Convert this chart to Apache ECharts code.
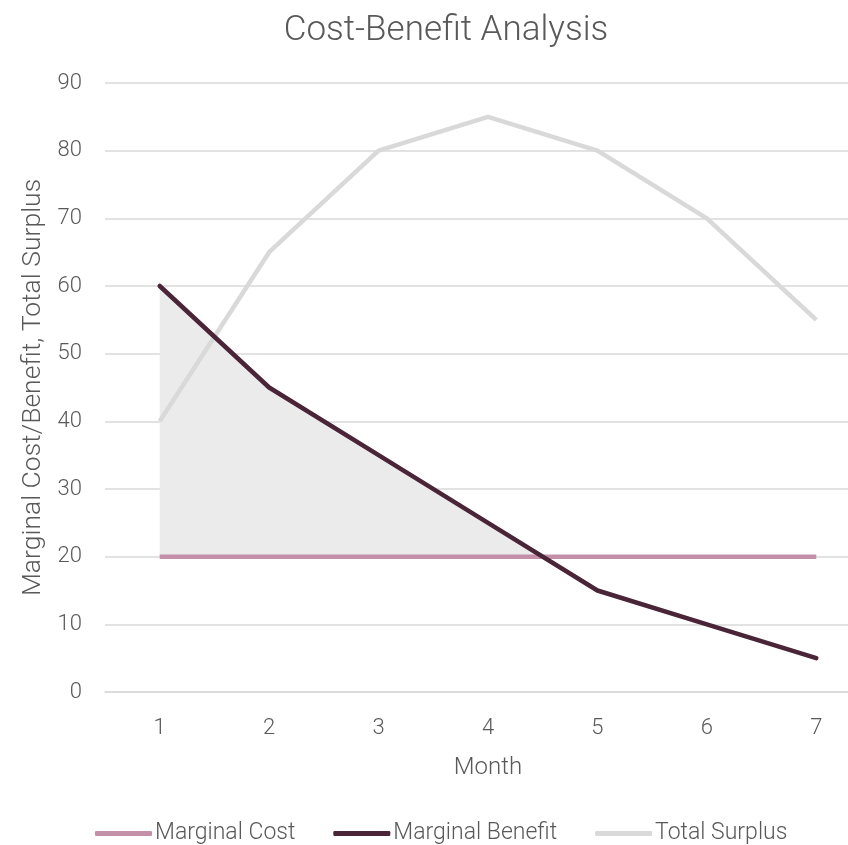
<!DOCTYPE html>
<html>
<head>
<meta charset="utf-8">
<script src="https://cdn.jsdelivr.net/npm/echarts@6/dist/echarts.min.js"></script>
<style>
  html, body { margin: 0; padding: 0; background: #fff; overflow: hidden; }
  /* plot area runs past the right edge of the page */
  #chart { width: 871px; height: 845px; }
</style>
</head>
<body>
<div id="chart"></div>
<script>
// Monthly cost-benefit figures
const months = ['1', '2', '3', '4', '5', '6', '7'];
const marginalCost = [20, 20, 20, 20, 20, 20, 20];
const marginalBenefit = [60, 45, 35, 25, 15, 10, 5];
const totalSurplus = [40, 65, 80, 85, 80, 70, 55];

const FONT = 'Roboto, "Liberation Sans", Arial, sans-serif';
const TEXT = '#595959';

// Surplus region: between the benefit curve and the cost line, up to where they cross
function surplusPolygon() {
  const upper = [];
  for (let i = 0; i < months.length; i++) {
    const d = marginalBenefit[i] - marginalCost[i];
    if (d >= 0) {
      upper.push([i, marginalBenefit[i]]);
    }
    if (i + 1 < months.length) {
      const d2 = marginalBenefit[i + 1] - marginalCost[i + 1];
      if (d > 0 && d2 < 0) {
        const t = d / (d - d2);
        upper.push([i + t, marginalCost[i] + t * (marginalCost[i + 1] - marginalCost[i])]);
        break;
      }
    }
  }
  const lower = upper.map(p => [p[0], marginalCost[Math.min(Math.round(p[0]), months.length - 1)]]).reverse();
  return upper.concat(lower);
}

const chart = echarts.init(document.getElementById('chart'));
chart.setOption({
  backgroundColor: '#ffffff',
  animation: false,
  title: {
    text: 'Cost-Benefit Analysis',
    left: 441,
    textAlign: 'center',
    top: 9,
    textStyle: { fontFamily: FONT, fontSize: 35, fontWeight: 300, color: TEXT }
  },
  legend: {
    bottom: -5,
    left: 90,
    itemWidth: 57,
    itemHeight: 5,
    itemGap: 38,
    icon: 'roundRect',
    textStyle: { fontFamily: FONT, fontSize: 23, fontWeight: 300, color: TEXT, padding: [0, 0, 0, -2] },
    data: ['Marginal Cost', 'Marginal Benefit', 'Total Surplus']
  },
  grid: { left: 105, right: 0, top: 83, bottom: 153 },
  xAxis: [
    {
      type: 'category',
      data: months,
      boundaryGap: true,
      name: 'Month',
      nameLocation: 'middle',
      nameGap: 64,
      nameTextStyle: { fontFamily: FONT, fontSize: 24, fontWeight: 300, color: TEXT },
      axisLine: { show: true, lineStyle: { color: '#d9d9d9', width: 1.5 } },
      axisTick: { show: false },
      axisLabel: { fontFamily: FONT, fontSize: 22, fontWeight: 300, color: TEXT, margin: 25 },
      splitLine: { show: false }
    },
    {
      type: 'value',
      min: -0.5,
      max: 6.5,
      show: false
    }
  ],
  yAxis: {
    type: 'value',
    min: 0,
    max: 90,
    interval: 10,
    name: 'Marginal Cost/Benefit, Total Surplus',
    nameLocation: 'middle',
    nameGap: 56,
    nameTextStyle: { fontFamily: FONT, fontSize: 26.5, fontWeight: 300, color: TEXT },
    axisLine: { show: false },
    axisTick: { show: false },
    axisLabel: { fontFamily: FONT, fontSize: 22, fontWeight: 300, color: TEXT, margin: 23 },
    splitLine: { lineStyle: { color: '#d9d9d9', width: 1.5 } }
  },
  series: [
    {
      name: 'Surplus Area',
      type: 'custom',
      xAxisIndex: 1,
      silent: true,
      z: 1,
      data: [0],
      renderItem: function (params, api) {
        const pts = surplusPolygon().map(p => api.coord(p));
        return {
          type: 'polygon',
          shape: { points: pts },
          style: { fill: '#ebebeb' }
        };
      }
    },
    {
      name: 'Marginal Cost',
      type: 'line',
      data: marginalCost,
      symbol: 'none',
      z: 3,
      itemStyle: { color: '#c48fa9' },
      lineStyle: { color: '#c48fa9', width: 4.5 }
    },
    {
      name: 'Marginal Benefit',
      type: 'line',
      data: marginalBenefit,
      symbol: 'none',
      z: 4,
      itemStyle: { color: '#4a2437' },
      lineStyle: { color: '#4a2437', width: 4.5, cap: 'round' }
    },
    {
      name: 'Total Surplus',
      type: 'line',
      data: totalSurplus,
      symbol: 'none',
      z: 2,
      itemStyle: { color: '#d9d9d9' },
      lineStyle: { color: '#d9d9d9', width: 4.5 }
    }
  ]
});
</script>
</body>
</html>
